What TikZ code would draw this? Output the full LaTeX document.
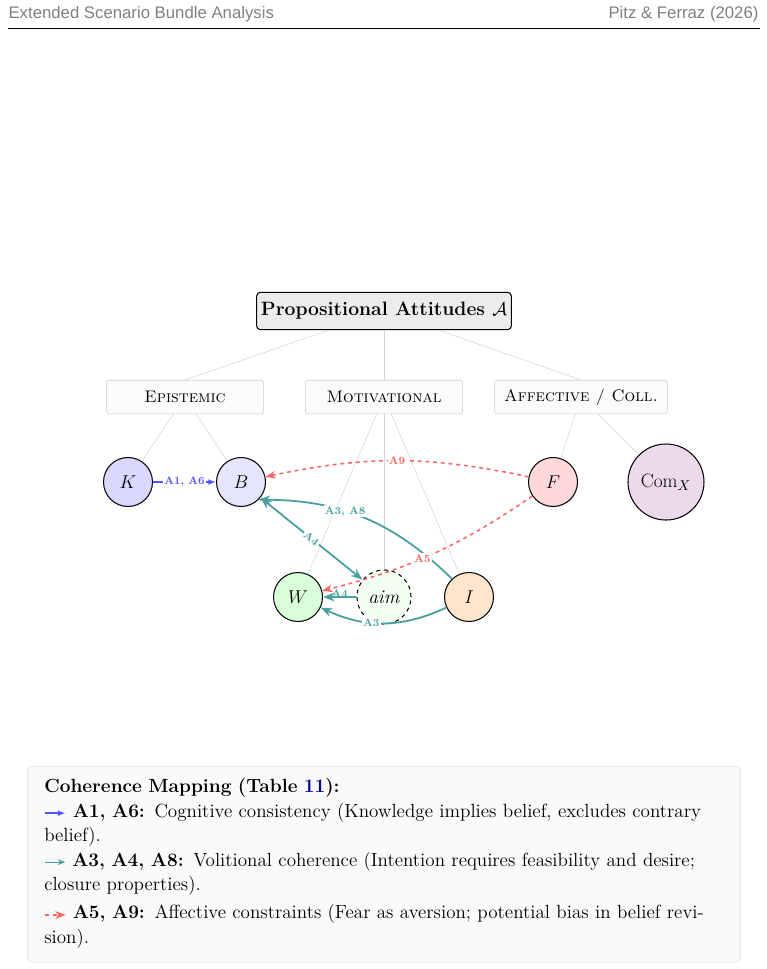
\documentclass[tikz,border=0pt]{standalone}
\usepackage{amsmath}
\usepackage{amssymb}
\usepackage{xcolor}
\usepackage{fontspec}
\newfontfamily\hdrfont{Liberation Sans}
\usetikzlibrary{arrows.meta}
\definecolor{epiblue}{RGB}{85,85,255}
\definecolor{voltea}{RGB}{72,160,160}
\definecolor{affred}{RGB}{255,100,100}
\tikzset{
  att/.style={circle, draw, thick, minimum size=38pt, inner sep=0pt, font=\fontsize{15}{15}\selectfont},
  cat/.style={draw=gray!40, fill=gray!3, rounded corners=2pt, minimum width=122pt, minimum height=26pt, font=\fontsize{13}{13}\selectfont\scshape},
  link/.style={gray!35},
  lab/.style={fill=white, inner sep=1pt, font=\fontsize{8.5}{8.5}\selectfont\bfseries},
  epi/.style={epiblue, line width=1.4pt, -{Latex[length=6pt]}},
  vol/.style={voltea, line width=1.4pt, -{Stealth[length=9pt]}},
  aff/.style={affred, line width=1.2pt, dashed, -{Stealth[length=8pt]}}
}
\begin{document}
\begin{tikzpicture}[x=0.776pt, y=-0.776pt]
    \useasboundingbox (0,0) rectangle (767,969);
    % Kopfzeile
    \node[anchor=west, gray, font=\hdrfont\fontsize{13}{13}\selectfont] (hl) at (4,14) {Extended Scenario Bundle Analysis};
    \node[anchor=east, gray, font=\hdrfont\fontsize{13}{13}\selectfont] (hr) at (763,14) {Pitz \& Ferraz (2026)};
    \draw[thin] (8,28) -- (760,28);

    % Wurzel und Kategorien
    \node[draw, thick, fill=gray!15, rounded corners=3pt, minimum width=194pt, minimum height=29pt, font=\fontsize{15}{15}\selectfont\bfseries] (root) at (384,311) {Propositional Attitudes $\mathcal{A}$};
    \node[cat, minimum width=122pt] (epist) at (185,397) {Epistemic};
    \node[cat, minimum width=122pt] (motiv) at (384,397) {Motivational};
    \node[cat, minimum width=134pt] (affec) at (581,397) {Affective / Coll.};

    % Einstellungen
    \node[att, fill=blue!15] (K) at (128,482) {$K$};
    \node[att, fill=blue!10] (B) at (241,482) {$B$};
    \node[att, fill=red!15] (F) at (553,482) {$F$};
    \node[att, fill=violet!15, minimum size=59pt] (Com) at (666,482) {$\mathrm{Com}_X$};
    \node[att, fill=green!15] (W) at (298,597) {$W$};
    \node[att, fill=green!5, dashed, minimum size=42pt] (aim) at (384,597) {\textit{aim}};
    \node[att, fill=orange!20] (I) at (469,597) {$I$};

    % Hierarchie
    \draw[link] (root) -- (epist.north);
    \draw[link] (root) -- (motiv.north);
    \draw[link] (root) -- (affec.north);
    \draw[link] (epist) -- (K);
    \draw[link] (epist) -- (B);
    \draw[link] (motiv) -- (W);
    \draw[link] (motiv) -- (aim);
    \draw[link] (motiv) -- (I);
    \draw[link] (affec) -- (F);
    \draw[link] (affec) -- (Com);

    % Koh\"arenz
    \draw[epi] (K) -- node[lab, text=epiblue] {A1, A6} (B);
    \draw[aff] (F) to[bend right=12] node[lab, text=affred] {A9} (B);
    \draw[vol] (I) to[bend right=22] node[lab, text=voltea, pos=0.6] {A3, A8} (B.south east);
    \draw[vol, {Stealth[length=9pt]}-{Stealth[length=9pt]}] (B) -- node[lab, text=voltea, sloped] {A4} (aim);
    \draw[aff] (F) to[bend left=10] node[lab, text=affred, pos=0.55] {A5} (W);
    \draw[vol] (aim) -- node[lab, text=voltea, above=-2pt, fill=none] {A4} (W);
    \draw[vol] (I) to[bend left=25] node[lab, text=voltea, pos=0.6] {A3} (W);

    % Legende
    \draw[gray!30, fill=gray!4, rounded corners=3pt] (28,766) rectangle (740,962);
    \node[anchor=north west, align=left, text width=522pt, inner sep=0pt, font=\fontsize{14.8}{19}\selectfont] (leg) at (44,778) {%
      \textbf{Coherence Mapping (Table \textcolor{blue!60!black}{11}):}\\
      \tikz[baseline=-3pt]\draw[epi, very thick] (0,0) -- (16pt,0); \textbf{A1, A6:} Cognitive consistency (Knowledge implies belief, excludes contrary belief).\\
      \tikz[baseline=-3pt]\draw[voltea, thick, -{Stealth[length=6pt]}] (0,0) -- (16pt,0); \textbf{A3, A4, A8:} Volitional coherence (Intention requires feasibility and desire; closure properties).\\[3pt]
      \tikz[baseline=-3pt]\draw[aff, very thick] (0,0) -- (16pt,0); \textbf{A5, A9:} Affective constraints (Fear as aversion; potential bias in belief revision).};
\end{tikzpicture}
\end{document}
